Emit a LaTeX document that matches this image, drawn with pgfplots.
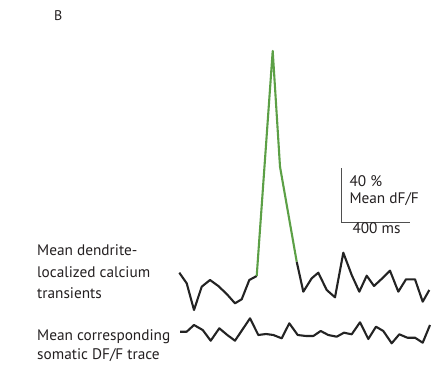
\documentclass[border=0pt]{standalone}
\usepackage{fontspec}
\setmainfont{PT Sans}
\usepackage{pgfplots}
\pgfplotsset{compat=1.18}
\definecolor{txt}{RGB}{35,31,32}
\definecolor{tr}{RGB}{35,35,35}
\definecolor{gr}{RGB}{92,160,70}
\begin{document}
\begin{tikzpicture}
\useasboundingbox (0,0) rectangle (433pt,371pt);
\begin{axis}[at={(0,0)}, anchor=south west, scale only axis,
  width=433pt, height=371pt, xmin=0, xmax=433, ymin=0, ymax=371,
  y dir=reverse, hide axis, clip=false]
\addplot[tr, line width=2.1pt, line join=round] coordinates {
(179.3,272.7) (186.7,283.3) (194,310) (201.7,286.7) (210,280) (218.3,286)
(226.7,294) (235,303.3) (241.7,299.3) (249.3,280) (256.7,276)};
\addplot[tr, line width=2.1pt, line join=round] coordinates {
(296.7,261.7) (303.3,291.7) (311.7,278.3) (318.3,272.7) (326.7,290) (335,297.3)
(343.3,252.7) (351.7,275) (359.3,291.7) (366.7,275.7) (374,286) (382.3,278.3)
(390,270.7) (398.3,291.7) (406,279.3) (415,279.3) (422.7,301.7) (429.3,290)};
\addplot[gr, line width=2.1pt, line join=round] coordinates {
(256.7,276) (272.7,51) (280,166.7) (296.7,261.7)};
\addplot[tr, line width=2.1pt, line join=round] coordinates {
(180,331.7) (186.7,331.7) (194,325) (202.7,330) (210.7,340.7) (219.3,328.3)
(227.3,335) (235,340.7) (250,318.3) (258.3,335) (266,334) (273.3,335)
(281.7,338.3) (289.3,323.3) (297.7,335) (306,336) (313.3,336) (320.7,331)
(328.3,335) (336.7,336.7) (344,332.7) (351.7,334.3) (360,322.3) (368.3,339)
(376,326.7) (383.3,331) (391.7,343.3) (399.3,334.3) (407.3,337.7) (415,337.7)
(422.7,342.7) (430,325)};
\addplot[tr!80, line width=0.9pt] coordinates {(341,168.3) (341,222.7) (410,222.7)};
\begin{scope}[every node/.style={anchor=base west, inner sep=0pt, text=txt, font=\fontsize{15.3}{18}\selectfont}]
\node at (axis cs:54,20.5) {\fontsize{14}{15}\selectfont B};
\node at (axis cs:349.3,186.7) {40 \%};
\node at (axis cs:349.3,203.3) {Mean dF/F};
\node at (axis cs:352.3,233.3) {400 ms};
\node at (axis cs:37,255) {Mean dendrite-};
\node at (axis cs:37,277.5) {localized calcium};
\node at (axis cs:37,298.5) {transients};
\node at (axis cs:37,340.5) {Mean corresponding};
\node at (axis cs:37,359.5) {somatic DF/F trace};
\end{scope}
\end{axis}
\end{tikzpicture}
\end{document}
